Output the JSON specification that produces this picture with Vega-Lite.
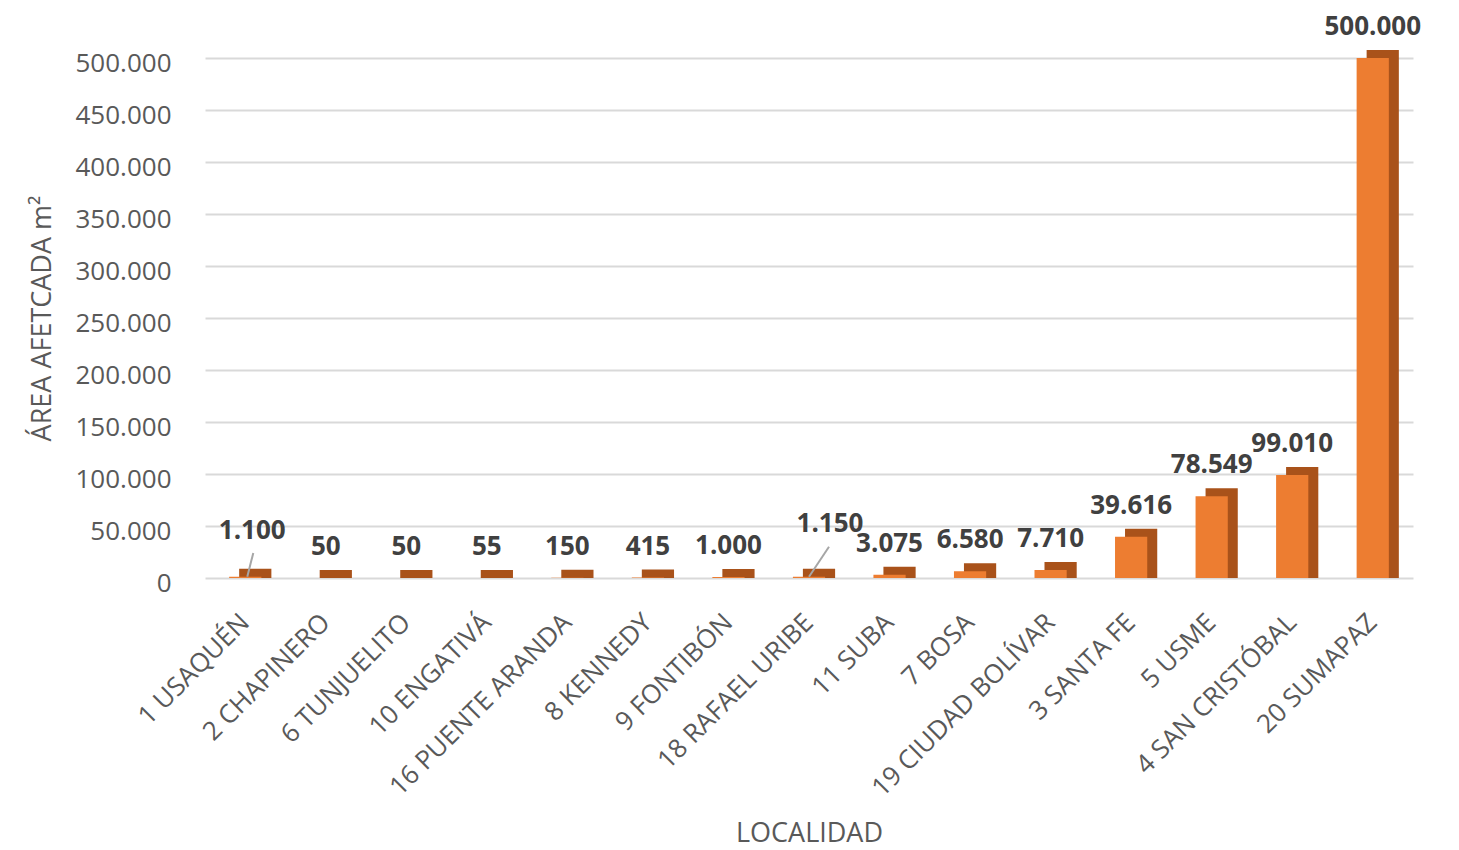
{
  "$schema": "https://vega.github.io/schema/vega-lite/v6.json",
  "autosize": "none",
  "width": 1208,
  "height": 520,
  "padding": {"left": 205, "top": 58, "right": 46, "bottom": 272},
  "background": "white",
  "config": {
    "view": {"stroke": null},
    "font": "Open Sans",
    "locale": {"number": {"decimal": ",", "thousands": ".", "grouping": [3], "currency": ["$", ""]}}
  },
  "data": {
    "values": [
      {"localidad": "1 USAQUÉN", "area": 1100},
      {"localidad": "2 CHAPINERO", "area": 50},
      {"localidad": "6 TUNJUELITO", "area": 50},
      {"localidad": "10 ENGATIVÁ", "area": 55},
      {"localidad": "16 PUENTE ARANDA", "area": 150},
      {"localidad": "8 KENNEDY", "area": 415},
      {"localidad": "9 FONTIBÓN", "area": 1000},
      {"localidad": "18 RAFAEL URIBE", "area": 1150},
      {"localidad": "11 SUBA", "area": 3075},
      {"localidad": "7 BOSA", "area": 6580},
      {"localidad": "19 CIUDAD BOLÍVAR", "area": 7710},
      {"localidad": "3 SANTA FE", "area": 39616},
      {"localidad": "5 USME", "area": 78549},
      {"localidad": "4 SAN CRISTÓBAL", "area": 99010},
      {"localidad": "20 SUMAPAZ", "area": 500000}
    ]
  },
  "encoding": {
    "x": {
      "field": "localidad",
      "type": "nominal",
      "sort": null,
      "scale": {"paddingInner": 0.6, "paddingOuter": 0.3},
      "axis": {
        "title": "LOCALIDAD",
        "labelAngle": -45,
        "labelAlign": "right",
        "labelBaseline": "middle",
        "labelFontSize": 26,
        "labelLimit": 0,
        "labelColor": "#595959",
        "labelPadding": 40,
        "ticks": false,
        "domain": false,
        "titleFontSize": 27,
        "titleFontWeight": "normal",
        "titleColor": "#595959",
        "titlePadding": 42
      }
    },
    "y": {
      "field": "area",
      "type": "quantitative",
      "scale": {"domain": [0, 500000]},
      "axis": {
        "title": "ÁREA AFETCADA m²",
        "values": [0, 50000, 100000, 150000, 200000, 250000, 300000, 350000, 400000, 450000, 500000],
        "format": ",.0f",
        "labelFontSize": 26,
        "labelColor": "#595959",
        "labelPadding": 34,
        "labelOffset": 5,
        "ticks": false,
        "domain": false,
        "gridColor": "#d9d9d9",
        "gridWidth": 2,
        "titleFontSize": 27,
        "titleFontWeight": "normal",
        "titleColor": "#595959",
        "titlePadding": 18
      }
    }
  },
  "layer": [
    {
      "mark": {"type": "bar", "color": "#A9521A", "xOffset": 10, "yOffset": -8, "y2Offset": 0},
      "encoding": {"y2": {"datum": 0}}
    },
    {
      "mark": {"type": "bar", "color": "#ED7D31"}
    },
    {
      "transform": [{"filter": "datum.localidad !== '1 USAQUÉN' && datum.localidad !== '18 RAFAEL URIBE'"}],
      "mark": {"type": "text", "dy": -31, "fontSize": 26, "fontWeight": "bold", "color": "#404040", "baseline": "middle"},
      "encoding": {"text": {"field": "area", "type": "quantitative", "format": ",.0f"}}
    },
    {
      "transform": [{"filter": "datum.localidad === '1 USAQUÉN'"}],
      "mark": {"type": "text", "dy": -46, "dx": 7, "fontSize": 26, "fontWeight": "bold", "color": "#404040", "baseline": "middle"},
      "encoding": {"text": {"field": "area", "type": "quantitative", "format": ",.0f"}}
    },
    {
      "transform": [{"filter": "datum.localidad === '18 RAFAEL URIBE'"}],
      "mark": {"type": "text", "dy": -53, "dx": 21, "fontSize": 26, "fontWeight": "bold", "color": "#404040", "baseline": "middle"},
      "encoding": {"text": {"field": "area", "type": "quantitative", "format": ",.0f"}}
    },
    {
      "transform": [{"filter": "datum.localidad === '1 USAQUÉN'"}],
      "mark": {"type": "rule", "color": "#a6a6a6", "strokeWidth": 2, "xOffset": 2, "x2Offset": 8},
      "encoding": {
        "x2": {"field": "localidad"},
        "y2": {"datum": 24000}
      }
    },
    {
      "transform": [{"filter": "datum.localidad === '18 RAFAEL URIBE'"}],
      "mark": {"type": "rule", "color": "#a6a6a6", "strokeWidth": 2, "xOffset": 0, "x2Offset": 20},
      "encoding": {
        "x2": {"field": "localidad"},
        "y2": {"datum": 30000}
      }
    }
  ]
}
